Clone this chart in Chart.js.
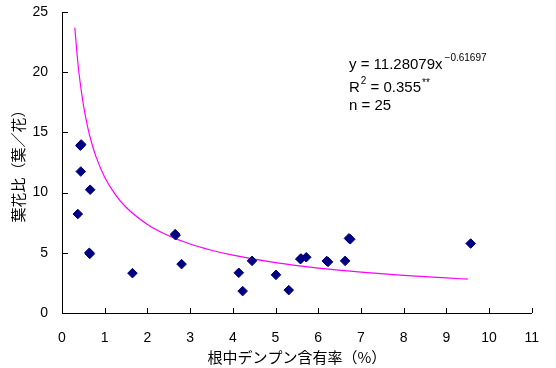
<!DOCTYPE html>
<html>
<head>
<meta charset="utf-8">
<script src="https://cdn.jsdelivr.net/npm/chart.js@4/dist/chart.umd.min.js"></script>
<style>
  html, body { margin: 0; padding: 0; background: #fff; }
  #wrap { width: 556px; height: 368px; position: relative; }
</style>
</head>
<body>
<div id="wrap"><canvas id="c" width="556" height="368"></canvas></div>
<script>
// Observed data (根中デンプン含有率 %, 葉花比)
const starchPct = [0.43, 0.45, 0.44, 0.66, 0.37, 0.65, 0.64, 1.65, 2.66, 2.65, 2.80, 4.14, 4.23, 4.45, 5.01, 5.31, 5.60, 5.72, 6.23, 6.20, 6.63, 6.75, 6.72, 9.57, 5.58];
const leafFlowerRatio = [13.9, 14.0, 11.75, 10.24, 8.22, 4.91, 5.0, 3.31, 6.46, 6.55, 4.06, 3.34, 1.82, 4.33, 3.17, 1.9, 4.52, 4.63, 4.25, 4.32, 4.33, 6.12, 6.2, 5.77, 4.48];

// Trend curve
const trendX = [0.3, 0.35, 0.4, 0.5, 0.6, 0.7, 0.8, 1.0, 1.25, 1.5, 2.0, 2.5, 3.0, 3.5, 4.0, 5.0, 6.0, 7.0, 8.0, 9.0, 9.5];
const trendY = [23.7, 21.6, 19.85, 17.3, 15.46, 14.06, 12.95, 11.28, 9.83, 8.78, 7.36, 6.41, 5.73, 5.21, 4.8, 4.18, 3.73, 3.4, 3.13, 2.91, 2.81];

// Axis settings
const xTicks = [0, 1, 2, 3, 4, 5, 6, 7, 8, 9, 10, 11];
const yTicks = [0, 5, 10, 15, 20, 25];
const xTitle = '根中デンプン含有率（%）';
const yTitle = '葉花比（葉／花）';
const eqMain = 'y = 11.28079x';
const eqExp = '−0.61697';
const r2Value = ' = 0.355';
const nText = 'n = 25';

const scatterPts = starchPct.map((x, i) => ({ x: x, y: leafFlowerRatio[i] }));
const trendPts = trendX.map((x, i) => ({ x: x, y: trendY[i] }));

const innerTicks = {
  id: 'innerTicks',
  afterDraw(chart) {
    const ctx = chart.ctx;
    const xs = chart.scales.x, ys = chart.scales.y;
    const a = chart.chartArea;
    ctx.save();
    ctx.strokeStyle = '#000';
    ctx.lineWidth = 1;
    ctx.beginPath();
    xTicks.forEach(v => {
      if (v === 0) return;
      const px = Math.round(xs.getPixelForValue(v)) + 0.5;
      ctx.moveTo(px, a.bottom);
      ctx.lineTo(px, a.bottom - 5);
    });
    yTicks.forEach(v => {
      if (v === 0) return;
      const py = Math.round(ys.getPixelForValue(v)) + 0.5;
      ctx.moveTo(a.left, py);
      ctx.lineTo(a.left + 6, py);
    });
    ctx.stroke();
    ctx.restore();
  }
};

const annotation = {
  id: 'annotation',
  afterDraw(chart) {
    const ctx = chart.ctx;
    ctx.save();
    ctx.fillStyle = '#000';
    ctx.textBaseline = 'alphabetic';
    ctx.textAlign = 'left';
    const big = '15px "Liberation Sans", Arial, sans-serif';
    const small = '10px "Liberation Sans", Arial, sans-serif';
    const x0 = 349;
    // row 1
    ctx.font = big;
    ctx.fillText(eqMain, x0, 69);
    let w = ctx.measureText(eqMain).width;
    ctx.font = small;
    ctx.fillText(eqExp, x0 + w + 2, 61);
    // row 2
    ctx.font = big;
    ctx.fillText('R', x0, 92);
    let wr = ctx.measureText('R').width;
    ctx.font = small;
    ctx.fillText('2', x0 + wr + 1, 84);
    let w2 = ctx.measureText('2').width;
    ctx.font = big;
    const xr = x0 + wr + 1 + w2;
    ctx.fillText(r2Value, xr, 92);
    let wv = ctx.measureText(r2Value).width;
    ctx.font = small;
    ctx.fillText('**', xr + wv + 1, 86);
    // row 3
    ctx.font = big;
    ctx.fillText(nText, x0, 110);
    ctx.restore();
  }
};

new Chart(document.getElementById('c'), {
  data: {
    datasets: [
      {
        type: 'line',
        data: trendPts,
        borderColor: '#FF00FF',
        borderWidth: 1.2,
        pointRadius: 0,
        fill: false,
        cubicInterpolationMode: 'monotone',
        order: 2
      },
      {
        type: 'scatter',
        data: scatterPts,
        pointStyle: 'rectRot',
        pointRadius: 4.8,
        pointBackgroundColor: '#000080',
        pointBorderColor: '#000080',
        pointBorderWidth: 1,
        order: 1
      }
    ]
  },
  options: {
    responsive: false,
    animation: false,
    events: [],
    layout: { padding: { top: 12, right: 23, bottom: 0, left: 0 } },
    plugins: { legend: { display: false }, tooltip: { enabled: false } },
    scales: {
      x: {
        type: 'linear',
        min: 0, max: 11,
        afterFit(s) { s.height = 55; },
        afterBuildTicks(s) { s.ticks = xTicks.map(v => ({ value: v })); },
        grid: { display: false, drawTicks: false },
        border: { display: true, color: '#000', width: 1 },
        ticks: {
          padding: 17,
          color: '#000',
          font: { family: '"Liberation Sans", Arial, sans-serif', size: 14 },
          maxRotation: 0,
          autoSkip: false
        },
        title: {
          display: true,
          text: xTitle,
          color: '#000',
          font: { family: '"Noto Sans CJK JP", sans-serif', size: 15 },
          padding: { top: 0, bottom: 2 }
        }
      },
      y: {
        type: 'linear',
        min: 0, max: 25,
        afterFit(s) { s.width = 62; s.paddingTop = 4; s.paddingBottom = 4; },
        afterBuildTicks(s) { s.ticks = yTicks.map(v => ({ value: v })); },
        grid: { display: false, drawTicks: false },
        border: { display: true, color: '#000', width: 1 },
        ticks: {
          padding: 14,
          color: '#000',
          font: { family: '"Liberation Sans", Arial, sans-serif', size: 14 },
          autoSkip: false
        },
        title: {
          display: true,
          text: yTitle,
          color: '#000',
          font: { family: '"Noto Sans CJK JP", sans-serif', size: 15 },
          padding: { top: 9, bottom: 0 }
        }
      }
    }
  },
  plugins: [innerTicks, annotation]
});
</script>
</body>
</html>
